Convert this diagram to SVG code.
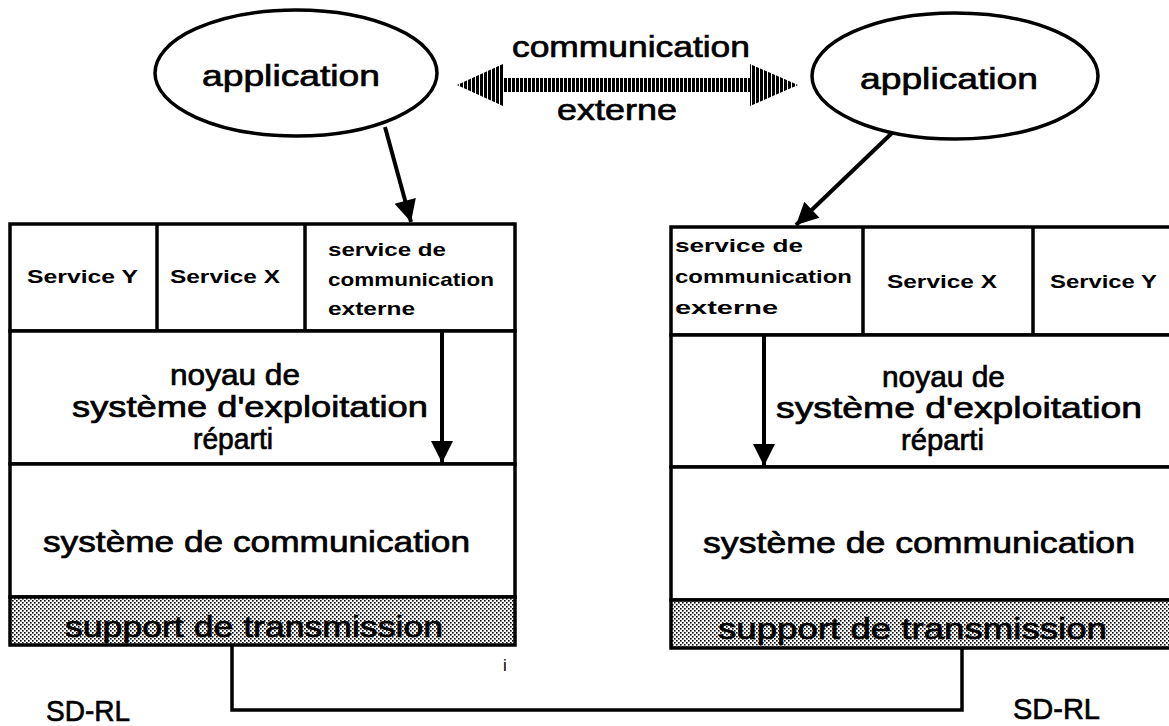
<svg xmlns="http://www.w3.org/2000/svg" width="1169" height="726" viewBox="0 0 1169 726">
  <style>
    .box { fill: #ffffff; stroke: #000000; stroke-width: 3.5; }
    .sup { fill: url(#dots); stroke: #000000; stroke-width: 3.5; }
    .ln { fill: none; stroke: #000000; stroke-width: 3.5; }
    .arr { fill: none; stroke: #000000; stroke-width: 4; }
    .big { font-family: "Liberation Sans", Arial, Helvetica, sans-serif; font-size: 30px; fill: #000000; stroke: #000000; stroke-width: 0.7; }
    .small { font-family: "Liberation Sans", Arial, Helvetica, sans-serif; font-size: 19px; font-weight: bold; fill: #000000; }
    .oval { fill: #ffffff; stroke: #000000; stroke-width: 3.5; }
  </style>
  <defs>
    <!-- fine dot screen for the transmission layer -->
    <pattern id="dots" width="4" height="4" patternUnits="userSpaceOnUse">
      <rect width="4" height="4" fill="#ffffff"/>
      <rect x="0" y="0" width="1.6" height="1.6" fill="#000000"/>
      <rect x="2" y="2" width="1.6" height="1.6" fill="#000000"/>
    </pattern>
    <!-- vertical hatching for the double arrow -->
    <pattern id="stripes" width="4" height="4" patternUnits="userSpaceOnUse">
      <rect width="4" height="4" fill="#ffffff"/>
      <rect x="0" y="0" width="3" height="4" fill="#000000"/>
    </pattern>
    <marker id="head" viewBox="0 0 10 10" refX="10" refY="5" markerWidth="7" markerHeight="5.5" markerUnits="strokeWidth" orient="auto">
      <path d="M0,0 L10,5 L0,10 Z" fill="#000000"/>
    </marker>
  </defs>

  <rect width="1169" height="726" fill="#ffffff"/>

  <!-- application (left) -->
  <g id="app-left">
    <ellipse class="oval" cx="296" cy="73" rx="141" ry="63"/>
    <text class="big" x="202" y="86" font-size="34" textLength="178" lengthAdjust="spacingAndGlyphs">application</text>
  </g>

  <!-- application (right) -->
  <g id="app-right">
    <ellipse class="oval" cx="955" cy="76" rx="143" ry="63"/>
    <text class="big" x="860" y="89" font-size="34" textLength="178" lengthAdjust="spacingAndGlyphs">application</text>
  </g>

  <!-- external communication link -->
  <g id="comm-externe">
    <path d="M457,85 L503,64 L503,78 L750,78 L750,64 L798,85 L750,106 L750,92 L503,92 L503,106 Z" fill="url(#stripes)"/>
    <text class="big" x="512" y="57" font-size="29" textLength="238" lengthAdjust="spacingAndGlyphs">communication</text>
    <text class="big" x="557" y="120" font-size="29" textLength="120" lengthAdjust="spacingAndGlyphs">externe</text>
  </g>

  <!-- left station stack -->
  <g id="station-left">
    <rect class="box" x="10" y="224" width="505" height="107"/>
    <line class="ln" x1="157" y1="224" x2="157" y2="331"/>
    <line class="ln" x1="305" y1="224" x2="305" y2="331"/>
    <text class="small" x="27" y="283" textLength="111" lengthAdjust="spacingAndGlyphs">Service Y</text>
    <text class="small" x="170" y="283" textLength="110" lengthAdjust="spacingAndGlyphs">Service X</text>
    <text class="small" x="328" y="256" textLength="118" lengthAdjust="spacingAndGlyphs">service de</text>
    <text class="small" x="328" y="286" textLength="166" lengthAdjust="spacingAndGlyphs">communication</text>
    <text class="small" x="328" y="315" textLength="87" lengthAdjust="spacingAndGlyphs">externe</text>

    <rect class="box" x="10" y="331" width="505" height="133"/>
    <text class="big" x="170" y="385" textLength="130" lengthAdjust="spacingAndGlyphs">noyau de</text>
    <text class="big" x="72" y="417" textLength="356" lengthAdjust="spacingAndGlyphs">système  d'exploitation</text>
    <text class="big" x="193" y="449" textLength="80" lengthAdjust="spacingAndGlyphs">réparti</text>

    <rect class="box" x="10" y="464" width="505" height="133"/>
    <text class="big" x="43" y="552" font-size="32" textLength="427" lengthAdjust="spacingAndGlyphs">système  de  communication</text>

    <rect class="sup" x="10" y="597" width="505" height="48"/>
    <text class="big" x="65" y="637" font-size="32" textLength="378" lengthAdjust="spacingAndGlyphs">support  de  transmission</text>
  </g>

  <!-- right station stack -->
  <g id="station-right">
    <rect class="box" x="671" y="227" width="520" height="108"/>
    <line class="ln" x1="863" y1="227" x2="863" y2="335"/>
    <line class="ln" x1="1033" y1="227" x2="1033" y2="335"/>
    <text class="small" x="675" y="252" textLength="128" lengthAdjust="spacingAndGlyphs">service de</text>
    <text class="small" x="675" y="283" textLength="177" lengthAdjust="spacingAndGlyphs">communication</text>
    <text class="small" x="675" y="314" textLength="103" lengthAdjust="spacingAndGlyphs">externe</text>
    <text class="small" x="887" y="288" textLength="110" lengthAdjust="spacingAndGlyphs">Service X</text>
    <text class="small" x="1050" y="288" textLength="107" lengthAdjust="spacingAndGlyphs">Service Y</text>

    <rect class="box" x="671" y="335" width="520" height="132"/>
    <text class="big" x="882" y="387" textLength="123" lengthAdjust="spacingAndGlyphs">noyau de</text>
    <text class="big" x="776" y="418" textLength="366" lengthAdjust="spacingAndGlyphs">système  d'exploitation</text>
    <text class="big" x="901" y="450" textLength="83" lengthAdjust="spacingAndGlyphs">réparti</text>

    <rect class="box" x="671" y="467" width="520" height="133"/>
    <text class="big" x="703" y="553" font-size="32" textLength="432" lengthAdjust="spacingAndGlyphs">système  de  communication</text>

    <rect class="sup" x="671" y="600" width="520" height="48"/>
    <text class="big" x="718" y="639" font-size="32" textLength="389" lengthAdjust="spacingAndGlyphs">support  de  transmission</text>
  </g>

  <!-- labels -->
  <g id="label-left">
    <text class="big" x="46" y="721" font-size="28" textLength="84" lengthAdjust="spacingAndGlyphs">SD-RL</text>
  </g>
  <g id="label-right">
    <text class="big" x="1013" y="719" font-size="28" textLength="87" lengthAdjust="spacingAndGlyphs">SD-RL</text>
  </g>
  <text x="503" y="671" font-family="Liberation Sans, Arial, sans-serif" font-size="17" fill="#000000">i</text>

  <!-- connectors -->
  <g id="connectors">
    <line class="arr" x1="385" y1="127" x2="411" y2="222" marker-end="url(#head)"/>
    <line class="arr" x1="892" y1="133" x2="796" y2="225" marker-end="url(#head)"/>
    <line class="arr" x1="442" y1="331" x2="442" y2="463" marker-end="url(#head)"/>
    <line class="arr" x1="764" y1="335" x2="764" y2="466" marker-end="url(#head)"/>
    <polyline class="ln" points="232,645 232,710 962,710 962,648"/>
  </g>
</svg>
